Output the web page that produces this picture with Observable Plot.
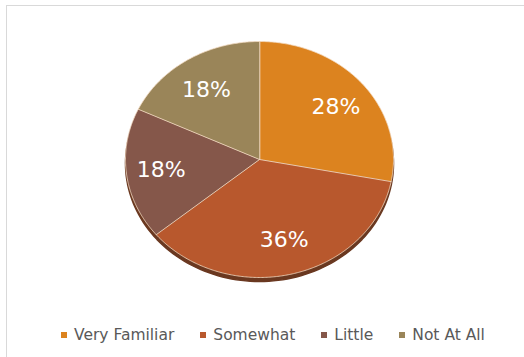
<!DOCTYPE html>
<html><head><meta charset="utf-8">
<script src="https://cdn.jsdelivr.net/npm/d3@7"></script>
<script src="https://cdn.jsdelivr.net/npm/@observablehq/plot@0.6"></script>
<style>
body{margin:0;background:#fff;width:524px;height:357px;overflow:hidden;position:relative;}
#frame{position:absolute;left:6px;top:5px;width:600px;height:400px;border:1px solid #d9d9d9;}
#chart{position:absolute;left:0;top:0;}
#legend{position:absolute;left:61px;top:318px;width:470px;}
#legend .leg-swatch{margin-right:26px;}
#legend .leg-swatch > svg{margin-right:7px;}
</style></head><body>
<div id="frame"></div>
<div id="chart"></div>
<div id="legend"></div>
<script>
const categories = ["Very Familiar", "Somewhat", "Little", "Not At All"];
const values = [28, 36, 18, 18];
const labels = ["28%", "36%", "18%", "18%"];
const colors = ["#DC831F", "#B8582D", "#85574A", "#9A8559"];

const arcs = d3.pie().sort(null).value(d => d)(values);
const slicePts = [];
arcs.forEach((p, i) => {
  slicePts.push({cat: categories[i], px: 0, py: 0});
  const n = Math.max(2, Math.ceil((p.endAngle - p.startAngle) / 0.01));
  for (let k = 0; k <= n; k++) {
    const a = p.startAngle + (p.endAngle - p.startAngle) * k / n;
    slicePts.push({cat: categories[i], px: Math.sin(a), py: Math.cos(a)});
  }
});
const rim = [];
for (let k = 0; k < 360; k += 2) rim.push({px: Math.sin(k * Math.PI / 180), py: Math.cos(k * Math.PI / 180)});
const labelPts = arcs.map((p, i) => {
  const m = (p.startAngle + p.endAngle) / 2;
  return {px: 0.74 * Math.sin(m), py: 0.7 * Math.cos(m), text: labels[i]};
});

const chart = Plot.plot({
  width: 524, height: 310,
  marginLeft: 125, marginRight: 131, marginTop: 41, marginBottom: 33,
  x: {domain: [-1, 1], axis: null},
  y: {domain: [-1, 1], axis: null},
  color: {type: "categorical", domain: categories, range: colors},
  marks: [
    Plot.line(rim, {x: "px", y: "py", dy: 4, fill: "#6a3820", stroke: "#6a3820", curve: "linear-closed"}),
    Plot.line(slicePts, {x: "px", y: "py", z: "cat", fill: "cat", stroke: "#f4dcc4", strokeWidth: 0.8, curve: "linear-closed"}),
    Plot.text(labelPts, {x: "px", y: "py", text: "text", fill: "white", fontSize: 22, fontFamily: "DejaVu Sans"})
  ]
});
document.getElementById("chart").appendChild(chart);

const leg = chart.legend("color", {
  className: "leg", swatchSize: 6,
  style: {fontFamily: "DejaVu Sans", fontSize: "15.5px", color: "#595959", margin: 0}
});
document.getElementById("legend").appendChild(leg);
</script>
</body></html>
